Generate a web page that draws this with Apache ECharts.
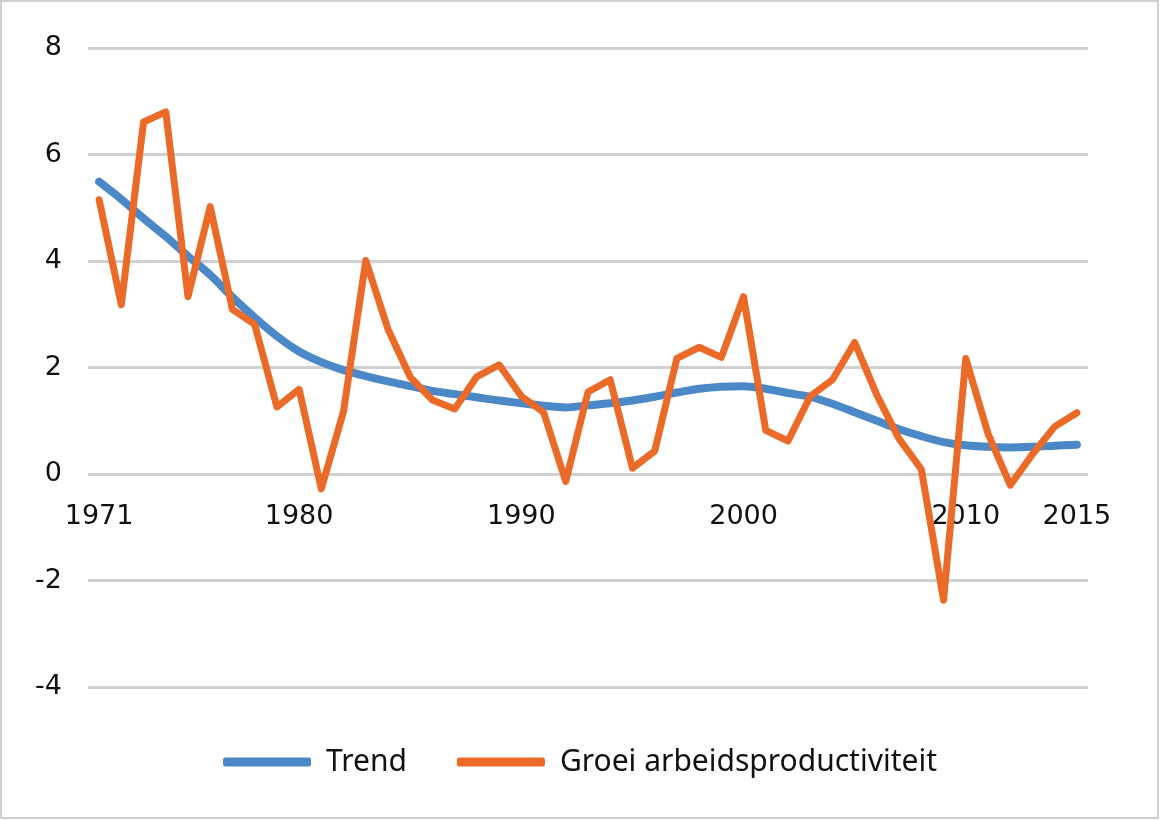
<!DOCTYPE html>
<html>
<head>
<meta charset="utf-8">
<script src="https://cdn.jsdelivr.net/npm/echarts@6/dist/echarts.min.js"></script>
<style>
html,body{margin:0;padding:0;background:#fff;}
#chart{width:1160px;height:820px;}
</style>
</head>
<body>
<div id="chart"></div>
<script>
const years = [];
for (let y = 1971; y <= 2015; y++) years.push(String(y));
const shownYearLabels = ['1971','1980','1990','2000','2010','2015'];
const yTicks = [-4,-2,0,2,4,6,8];

const trend = [5.49,5.16,4.80,4.46,4.09,3.74,3.32,2.94,2.59,2.30,
               2.10,1.95,1.84,1.74,1.65,1.56,1.50,1.44,1.38,1.33,
               1.28,1.25,1.29,1.33,1.38,1.45,1.53,1.60,1.64,1.65,
               1.60,1.52,1.45,1.32,1.16,1.00,0.84,0.71,0.60,0.54,
               0.51,0.50,0.51,0.53,0.55];
const groei = [5.15,3.18,6.61,6.80,3.33,5.02,3.09,2.81,1.26,1.59,
               -0.28,1.18,4.01,2.72,1.82,1.39,1.22,1.83,2.05,1.46,
               1.16,-0.14,1.54,1.77,0.11,0.43,2.17,2.38,2.19,3.33,
               0.82,0.62,1.46,1.77,2.47,1.48,0.66,0.09,-2.37,2.17,
               0.76,-0.21,0.37,0.89,1.15];

const chart = echarts.init(document.getElementById('chart'), null, {renderer:'canvas'});
chart.setOption({
  animation: false,
  backgroundColor: '#ffffff',
  graphic: [{
    type: 'rect', shape: {x: 1, y: 1, width: 1157, height: 817},
    style: {fill: 'none', stroke: '#d0d0d0', lineWidth: 2}, silent: true
  }],
  grid: {left: 88, right: 72, top: 48, bottom: 133},
  legend: {
    bottom: 38, left: 'center',
    icon: 'roundRect', itemWidth: 88, itemHeight: 9, itemGap: 50,
    textStyle: {fontFamily: 'Noto Sans', fontSize: 30, color: '#111', padding: [0,0,0,10]},
    data: ['Trend', 'Groei arbeidsproductiviteit']
  },
  xAxis: {
    type: 'category',
    data: years,
    boundaryGap: true,
    position: 'bottom',
    offset: -212,
    axisLine: {show: false, onZero: false},
    axisTick: {show: false},
    splitLine: {show: false},
    axisLabel: {
      interval: 0, margin: 28,
      fontFamily: 'DejaVu Sans', fontSize: 27, color: '#111',
      formatter: v => shownYearLabels.includes(v) ? v : ''
    }
  },
  yAxis: {
    type: 'value', min: yTicks[0], max: yTicks[yTicks.length-1], interval: 2,
    axisLine: {show: false}, axisTick: {show: false},
    splitLine: {lineStyle: {color: '#d0d0d0', width: 3}},
    axisLabel: {margin: 26, fontFamily: 'DejaVu Sans', fontSize: 27, color: '#111'}
  },
  series: [
    {
      name: 'Trend', type: 'line', data: trend, smooth: 0.3,
      symbol: 'none', color: '#4a88c7',
      lineStyle: {width: 8, color: '#4a88c7', cap: 'round'}
    },
    {
      name: 'Groei arbeidsproductiviteit', type: 'line', data: groei,
      symbol: 'none', color: '#eb6a28',
      lineStyle: {width: 7, color: '#eb6a28', cap: 'round', join: 'round'}
    }
  ]
});
</script>
</body>
</html>
